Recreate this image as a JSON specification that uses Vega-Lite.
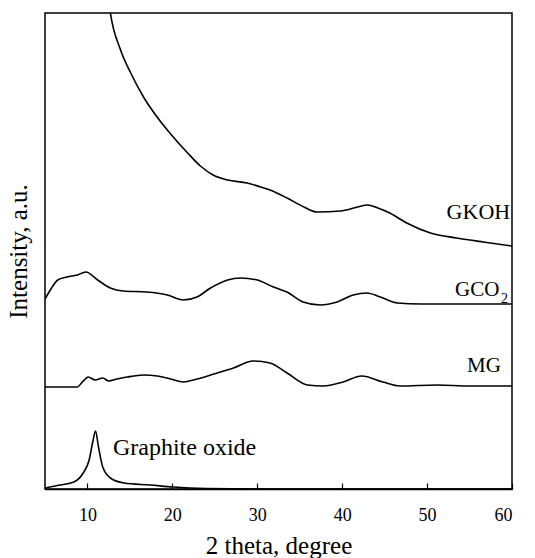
{
  "$schema": "https://vega.github.io/schema/vega-lite/v6.json",
  "autosize": {"type": "none"},
  "padding": {"left": 45, "top": 13, "right": 23, "bottom": 69},
  "width": 467,
  "height": 476,
  "background": "white",
  "config": {
    "view": {"stroke": "black", "strokeWidth": 1.5},
    "font": "Liberation Serif"
  },
  "datasets": {
    "curves": [
      {"series": "GKOH", "theta": 12.4, "intensity": 495},
      {"series": "GKOH", "theta": 12.7, "intensity": 476},
      {"series": "GKOH", "theta": 13.9, "intensity": 439},
      {"series": "GKOH", "theta": 15.1, "intensity": 416},
      {"series": "GKOH", "theta": 16.6, "intensity": 392},
      {"series": "GKOH", "theta": 18.2, "intensity": 372},
      {"series": "GKOH", "theta": 19.8, "intensity": 355},
      {"series": "GKOH", "theta": 21.8, "intensity": 336},
      {"series": "GKOH", "theta": 23.3, "intensity": 323},
      {"series": "GKOH", "theta": 24.8, "intensity": 314},
      {"series": "GKOH", "theta": 26.5, "intensity": 309},
      {"series": "GKOH", "theta": 28.8, "intensity": 306},
      {"series": "GKOH", "theta": 30.4, "intensity": 302},
      {"series": "GKOH", "theta": 31.5, "intensity": 299},
      {"series": "GKOH", "theta": 33.5, "intensity": 291},
      {"series": "GKOH", "theta": 35.5, "intensity": 282},
      {"series": "GKOH", "theta": 37.0, "intensity": 277},
      {"series": "GKOH", "theta": 39.8, "intensity": 278},
      {"series": "GKOH", "theta": 41.8, "intensity": 282},
      {"series": "GKOH", "theta": 43.0, "intensity": 284},
      {"series": "GKOH", "theta": 44.2, "intensity": 281},
      {"series": "GKOH", "theta": 45.6, "intensity": 276},
      {"series": "GKOH", "theta": 47.6, "intensity": 266},
      {"series": "GKOH", "theta": 50.4, "intensity": 256},
      {"series": "GKOH", "theta": 53.5, "intensity": 251},
      {"series": "GKOH", "theta": 56.6, "intensity": 247},
      {"series": "GKOH", "theta": 60.0, "intensity": 243},

      {"series": "GCO2", "theta": 5.0, "intensity": 190},
      {"series": "GCO2", "theta": 5.7, "intensity": 200},
      {"series": "GCO2", "theta": 6.5, "intensity": 209},
      {"series": "GCO2", "theta": 7.6, "intensity": 212},
      {"series": "GCO2", "theta": 8.8, "intensity": 214},
      {"series": "GCO2", "theta": 9.8, "intensity": 217},
      {"series": "GCO2", "theta": 11.2, "intensity": 209},
      {"series": "GCO2", "theta": 12.7, "intensity": 201},
      {"series": "GCO2", "theta": 14.2, "intensity": 198},
      {"series": "GCO2", "theta": 17.0, "intensity": 197},
      {"series": "GCO2", "theta": 19.4, "intensity": 194},
      {"series": "GCO2", "theta": 21.3, "intensity": 189},
      {"series": "GCO2", "theta": 22.9, "intensity": 192},
      {"series": "GCO2", "theta": 24.5, "intensity": 201},
      {"series": "GCO2", "theta": 26.5, "intensity": 209},
      {"series": "GCO2", "theta": 28.0, "intensity": 211},
      {"series": "GCO2", "theta": 30.0, "intensity": 209},
      {"series": "GCO2", "theta": 31.9, "intensity": 202},
      {"series": "GCO2", "theta": 33.5, "intensity": 197},
      {"series": "GCO2", "theta": 35.4, "intensity": 187},
      {"series": "GCO2", "theta": 37.4, "intensity": 184},
      {"series": "GCO2", "theta": 39.4, "intensity": 187},
      {"series": "GCO2", "theta": 41.3, "intensity": 194},
      {"series": "GCO2", "theta": 42.9, "intensity": 196},
      {"series": "GCO2", "theta": 44.5, "intensity": 192},
      {"series": "GCO2", "theta": 46.5, "intensity": 186},
      {"series": "GCO2", "theta": 49.2, "intensity": 185},
      {"series": "GCO2", "theta": 53.0, "intensity": 185},
      {"series": "GCO2", "theta": 57.0, "intensity": 185},
      {"series": "GCO2", "theta": 60.0, "intensity": 185},

      {"series": "MG", "theta": 5.0, "intensity": 102},
      {"series": "MG", "theta": 8.8, "intensity": 102},
      {"series": "MG", "theta": 9.4, "intensity": 107},
      {"series": "MG", "theta": 10.1, "intensity": 112},
      {"series": "MG", "theta": 10.9, "intensity": 109},
      {"series": "MG", "theta": 11.8, "intensity": 111},
      {"series": "MG", "theta": 12.5, "intensity": 108},
      {"series": "MG", "theta": 13.5, "intensity": 110},
      {"series": "MG", "theta": 14.7, "intensity": 112},
      {"series": "MG", "theta": 16.6, "intensity": 114},
      {"series": "MG", "theta": 18.2, "intensity": 113},
      {"series": "MG", "theta": 19.8, "intensity": 110},
      {"series": "MG", "theta": 21.3, "intensity": 107},
      {"series": "MG", "theta": 22.9, "intensity": 110},
      {"series": "MG", "theta": 24.9, "intensity": 115},
      {"series": "MG", "theta": 27.2, "intensity": 121},
      {"series": "MG", "theta": 29.5, "intensity": 128},
      {"series": "MG", "theta": 31.5, "intensity": 126},
      {"series": "MG", "theta": 33.5, "intensity": 116},
      {"series": "MG", "theta": 35.9, "intensity": 104},
      {"series": "MG", "theta": 37.8, "intensity": 103},
      {"series": "MG", "theta": 40.1, "intensity": 107},
      {"series": "MG", "theta": 42.3, "intensity": 113},
      {"series": "MG", "theta": 44.8, "intensity": 107},
      {"series": "MG", "theta": 46.8, "intensity": 103},
      {"series": "MG", "theta": 51.2, "intensity": 104},
      {"series": "MG", "theta": 55.0, "intensity": 103},
      {"series": "MG", "theta": 60.0, "intensity": 103},

      {"series": "GO", "theta": 5.0, "intensity": 1},
      {"series": "GO", "theta": 6.8, "intensity": 4},
      {"series": "GO", "theta": 8.4, "intensity": 7},
      {"series": "GO", "theta": 9.5, "intensity": 16},
      {"series": "GO", "theta": 10.2, "intensity": 29},
      {"series": "GO", "theta": 10.6, "intensity": 46},
      {"series": "GO", "theta": 10.95, "intensity": 58},
      {"series": "GO", "theta": 11.3, "intensity": 42},
      {"series": "GO", "theta": 11.8, "intensity": 22},
      {"series": "GO", "theta": 12.7, "intensity": 11},
      {"series": "GO", "theta": 14.3, "intensity": 6},
      {"series": "GO", "theta": 17.4, "intensity": 4},
      {"series": "GO", "theta": 20.1, "intensity": 2},
      {"series": "GO", "theta": 24.0, "intensity": 0.5},
      {"series": "GO", "theta": 30.0, "intensity": 0},
      {"series": "GO", "theta": 60.0, "intensity": 0}
    ],
    "labels": [
      {"text": "GKOH", "theta": 52.3, "intensity": 270, "size": 22},
      {"text": "GCO", "theta": 53.3, "intensity": 193, "size": 21},
      {"text": "2", "theta": 58.7, "intensity": 186, "size": 14},
      {"text": "MG", "theta": 54.7, "intensity": 117, "size": 21},
      {"text": "Graphite oxide", "theta": 13.0, "intensity": 34, "size": 24}
    ]
  },
  "layer": [
    {
      "data": {"name": "curves"},
      "mark": {"type": "line", "color": "black", "strokeWidth": 1.6, "interpolate": "monotone", "clip": true},
      "encoding": {
        "x": {
          "field": "theta", "type": "quantitative",
          "scale": {"domain": [5, 60], "nice": false, "zero": false},
          "axis": {
            "title": "2 theta, degree",
            "values": [10, 20, 30, 40, 50, 60],
            "grid": false,
            "tickSize": -6,
            "tickColor": "black",
            "tickWidth": 1.2,
            "domainColor": "black",
            "domainWidth": 1.5,
            "labelFont": "Liberation Serif",
            "labelFontSize": 18,
            "labelColor": "black",
            "labelPadding": 23,
            "titleFont": "Liberation Serif",
            "titleFontSize": 25,
            "titleFontWeight": "normal",
            "titleColor": "black",
            "titlePadding": 9
          }
        },
        "y": {
          "field": "intensity", "type": "quantitative",
          "scale": {"domain": [0, 476], "nice": false},
          "axis": {
            "title": "Intensity, a.u.",
            "ticks": false,
            "labels": false,
            "grid": false,
            "domain": false,
            "titleFont": "Liberation Serif",
            "titleFontSize": 25,
            "titleFontWeight": "normal",
            "titleColor": "black",
            "titlePadding": 14
          }
        },
        "detail": {"field": "series"}
      }
    },
    {
      "data": {"name": "labels"},
      "mark": {"type": "text", "align": "left", "baseline": "alphabetic", "color": "black", "font": "Liberation Serif"},
      "encoding": {
        "x": {"field": "theta", "type": "quantitative"},
        "y": {"field": "intensity", "type": "quantitative"},
        "text": {"field": "text"},
        "size": {"field": "size", "type": "quantitative", "scale": null}
      }
    }
  ]
}
